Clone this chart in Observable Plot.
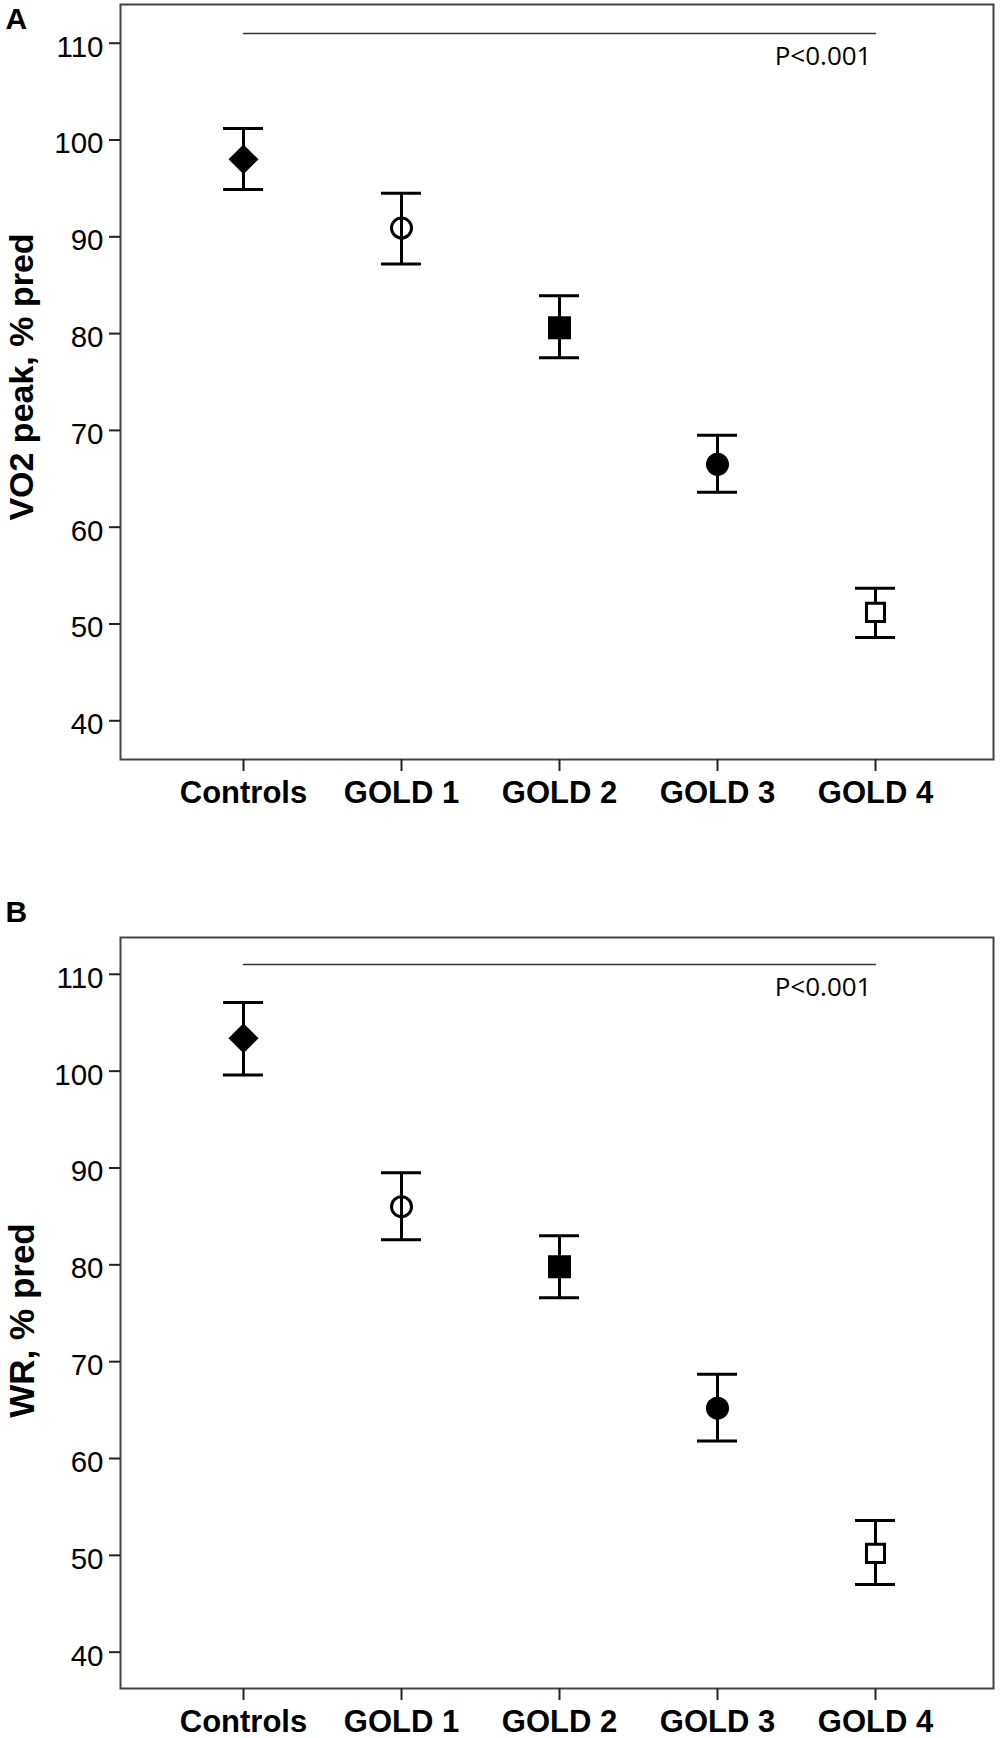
<!DOCTYPE html>
<html>
<head>
<meta charset="utf-8">
<script src="https://cdn.jsdelivr.net/npm/d3@7"></script>
<script src="https://cdn.jsdelivr.net/npm/@observablehq/plot@0.6"></script>
<style>
  html, body { margin: 0; padding: 0; background: #fff; }
  #wrap { position: relative; width: 1000px; height: 1738px; overflow: hidden; }
  #panelA, #panelB { position: absolute; left: 0; }
  #panelA { top: 0; }
  #panelB { top: 880px; }
  svg { overflow: visible; }
</style>
</head>
<body>
<div id="wrap">
  <div id="panelA"></div>
  <div id="panelB"></div>
</div>
<script>
// ---- Data ----
const categories = ["Controls", "GOLD 1", "GOLD 2", "GOLD 3", "GOLD 4"];

const vo2Mean = [98.0, 90.9, 80.6, 66.5, 51.2];
const vo2Low  = [94.9, 87.2, 77.5, 63.6, 48.6];
const vo2High = [101.2, 94.5, 83.9, 69.5, 53.7];

const wrMean = [103.4, 86.0, 79.8, 65.2, 50.2];
const wrLow  = [99.6, 82.6, 76.6, 61.8, 47.0];
const wrHigh = [107.1, 89.5, 83.0, 68.7, 53.6];

const yTicks = [40, 50, 60, 70, 80, 90, 100, 110];
const bracketLevel = 111;
const bracketFrom = "Controls";
const bracketTo = "GOLD 4";
const pText = "P<0.001";

// ---- Styles (per category marker) ----
const markerStyles = {
  "Controls": {symbol: "diamond2", r: 13.5, fill: "black", stroke: "none"},
  "GOLD 1":   {symbol: "circle", r: 10, fill: "none", stroke: "black", strokeWidth: 3},
  "GOLD 2":   {symbol: "square", r: 13, fill: "black", stroke: "none"},
  "GOLD 3":   {symbol: "circle", r: 11.5, fill: "black", stroke: "none"},
  "GOLD 4":   {symbol: "square", r: 10.2, fill: "white", stroke: "black", strokeWidth: 3}
};

const FONT = "'Liberation Sans', Arial, Helvetica, sans-serif";

function panel({means, lows, highs, title, letter, domain, height, marginTop, marginBottom, titleSize, titleDy, letterDy}) {
  const rows = categories.map((c, i) => ({cat: c, mean: means[i], lo: lows[i], hi: highs[i]}));
  const bracket = [{cat: bracketFrom, y: bracketLevel}, {cat: bracketTo, y: bracketLevel}];
  const dots = categories.map(c =>
    Plot.dot(rows.filter(d => d.cat === c), {x: "cat", y: "mean", ...markerStyles[c]})
  );
  return Plot.plot({
    width: 1000,
    height,
    marginTop,
    marginBottom,
    marginLeft: 120,
    marginRight: 7,
    style: {fontFamily: FONT, color: "black", background: "white", overflow: "visible"},
    x: {type: "band", domain: categories, paddingInner: 0.747, paddingOuter: 0.632, align: 0.51, label: null},
    y: {domain, label: null},
    marks: [
      Plot.frame({stroke: "#444", strokeWidth: 2}),
      Plot.axisY({ticks: yTicks, tickSize: 11, strokeWidth: 2, stroke: "#222", tickFormat: () => "", label: null}),
      Plot.axisY({ticks: yTicks, tickSize: 0, tickPadding: 17, dy: 4, fontSize: 29.5, label: null}),
      Plot.axisX({tickSize: 12, tickPadding: 9, strokeWidth: 2, stroke: "#222", fontSize: 31, fontWeight: "bold", label: null}),
      Plot.line(bracket, {x: "cat", y: "y", stroke: "#333", strokeWidth: 1.5}),
      Plot.text([bracket[1]], {x: "cat", y: "y", text: () => pText, textAnchor: "end", lineAnchor: "top",
        dx: -4, dy: 13, fontFamily: "'Open Sans', sans-serif", fontSize: 26, fill: "black"}),
      Plot.ruleX(rows, {x: "cat", y1: "lo", y2: "hi", stroke: "black", strokeWidth: 3}),
      Plot.tickY(rows, {x: "cat", y: "lo", stroke: "black", strokeWidth: 3}),
      Plot.tickY(rows, {x: "cat", y: "hi", stroke: "black", strokeWidth: 3}),
      ...dots,
      Plot.text([title], {frameAnchor: "left", textAnchor: "middle", rotate: -90, dx: -98, dy: titleDy,
        fontSize: titleSize, fontWeight: "bold", fill: "black"}),
      Plot.text([letter], {frameAnchor: "top-left", dx: -115, dy: letterDy, lineAnchor: "top",
        textAnchor: "start", fontSize: 30, fontWeight: "bold", fill: "black"})
    ]
  });
}

document.getElementById("panelA").appendChild(panel({
  means: vo2Mean, lows: vo2Low, highs: vo2High,
  title: "VO2 peak, % pred", letter: "A",
  domain: [36, 114], height: 880, marginTop: 4, marginBottom: 121,
  titleSize: 34, titleDy: -5, letterDy: 3
}));

document.getElementById("panelB").appendChild(panel({
  means: wrMean, lows: wrLow, highs: wrHigh,
  title: "WR, % pred", letter: "B",
  domain: [36.25, 113.8], height: 858, marginTop: 57, marginBottom: 50,
  titleSize: 35, titleDy: 7.5, letterDy: -37
}));
</script>
</body>
</html>
